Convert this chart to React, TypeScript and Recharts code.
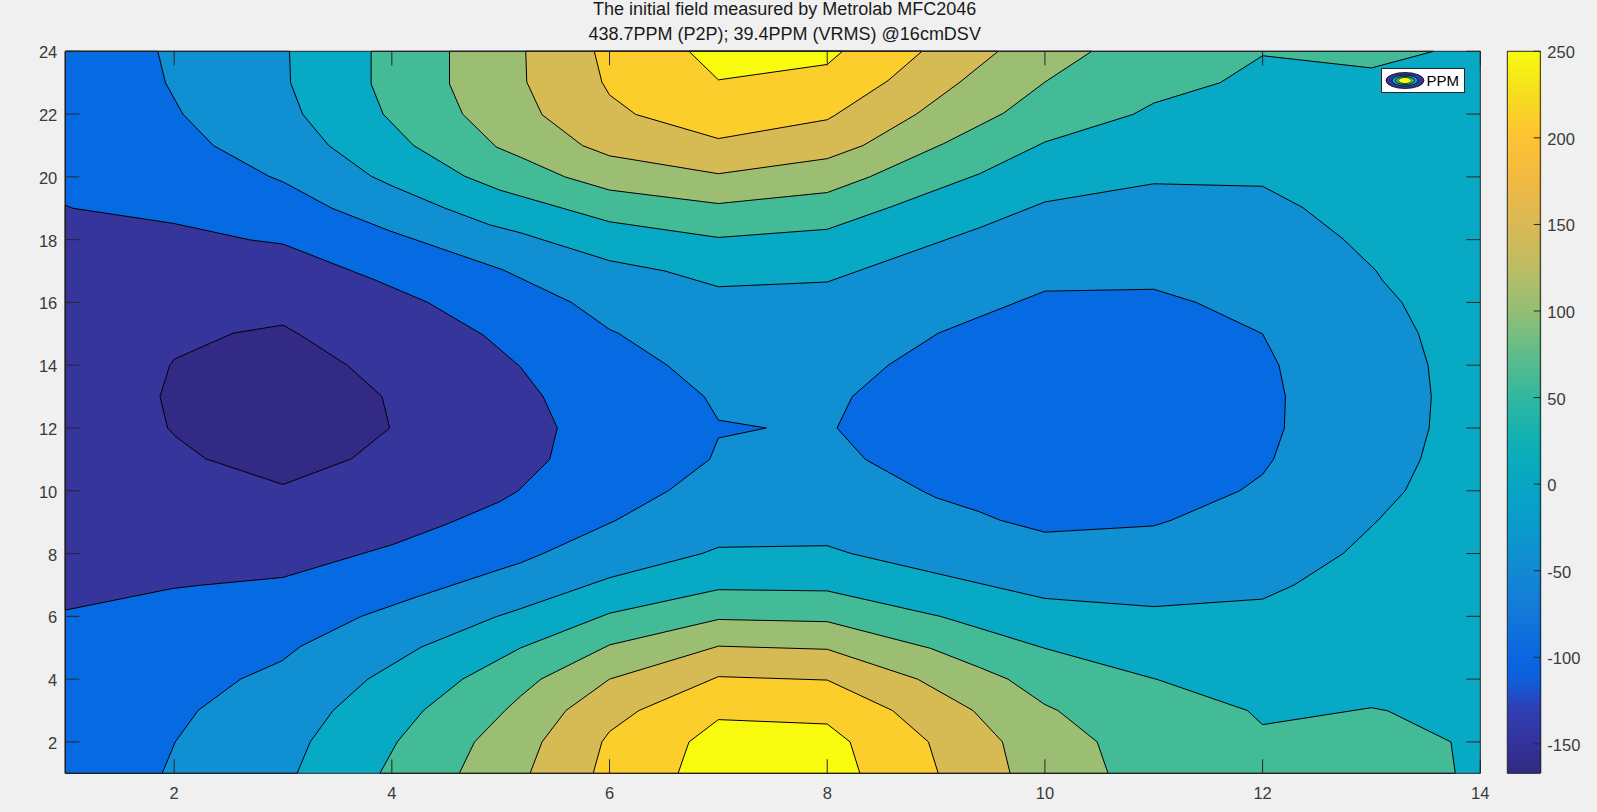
import React from 'react'
import { Bar, BarChart, Legend, Scatter, ScatterChart, XAxis, YAxis } from 'recharts'

const xTicks = [2, 4, 6, 8, 10, 12, 14]
const yTicks = [2, 4, 6, 8, 10, 12, 14, 16, 18, 20, 22, 24]
const colorbarTicks = [-150, -100, -50, 0, 50, 100, 150, 200, 250]
const colorbarRange = [{ name: 'PPM', range: [-167, 250] }]

const fieldBase = [[1, 1], [14, 1], [14, 24], [1, 24]]
const fieldCorners = [{ x: 1, y: 1 }, { x: 14, y: 24 }]

const midBlueRegion = [
  [1, 24], [3.06, 24], [3.07, 23], [3.18, 22], [3.42, 21], [3.81, 20.02], [4.01, 19.7], [4.49, 19], [4.9, 18.47],
  [5.18, 18.22], [6, 17.33], [6.51, 17], [7, 16.5], [8, 16.65], [9.4, 18.38], [10, 19.2], [11, 19.78], [12, 19.7],
  [12.37, 19.02], [12.74, 18.02], [13.04, 17.02], [13.1, 16.71], [13.28, 16], [13.43, 15.02], [13.52, 14], [13.55, 13],
  [13.53, 12], [13.45, 11], [13.31, 10], [13.06, 9.06], [12.74, 8], [12.29, 7], [12, 6.55], [11, 6.31], [10, 6.57],
  [9.4, 7.05], [8.22, 8], [8, 8.25], [7, 8.2], [6.85, 8], [6, 7.23], [5.18, 6.24], [4.96, 5.99], [4.27, 5.02],
  [3.78, 4], [3.46, 3], [3.25, 2], [3.13, 1], [1, 1],
]

const blueLeftRegion = [
  [1, 24], [1.85, 24], [1.92, 23], [2.08, 22], [2.36, 21], [2.87, 20.02], [3, 19.84], [3.45, 19], [3.98, 18.28],
  [5.02, 17.04], [5.22, 16.71], [5.65, 16], [6, 15.14], [6.08, 15.02], [6.53, 14], [6.87, 13], [7, 12.25], [7.44, 12],
  [7, 11.68], [6.92, 11], [6.54, 10], [6.06, 9.06], [5.39, 8], [5.18, 7.7], [4.99, 7.49], [4.23, 6.62], [3.72, 6],
  [3.16, 5.04], [2.99, 4.58], [2.61, 4], [2.22, 3], [2.01, 2], [1.89, 1], [1, 1],
]

const blueRightRegion = [
  [8.09, 12], [8.23, 13], [8.56, 14], [9.02, 15.02], [9.4, 15.54], [10, 16.36], [11, 16.42], [11.39, 16], [12, 15],
  [12.15, 14], [12.21, 13], [12.2, 12], [12.1, 11], [12, 10.52], [11.79, 10], [11.16, 9.06], [11, 8.88], [10, 8.68],
  [9.59, 9.06], [9.4, 9.33], [9, 9.78], [8.87, 10], [8.35, 11],
]

const indigoRegion = [
  [1, 19.1], [1.07, 19], [1.99, 18.52], [2.7, 17.99], [3, 17.86], [3.85, 16.71], [4.33, 16], [4.84, 14.96], [5.18, 13.95],
  [5.39, 13], [5.52, 12], [5.45, 11], [5.16, 10], [4.99, 9.65], [4.5, 8.93], [4.01, 8.29], [3, 7.24], [2.24, 6.99],
  [1.99, 6.89], [1, 6.2],
]

const darkRegion = [
  [3, 15.28], [3.16, 14.96], [3.59, 14], [3.91, 13], [3.98, 12], [3.63, 11.02], [3, 10.2], [2.29, 11.02], [2.01, 11.74],
  [1.94, 12], [1.87, 13], [1.96, 14], [2, 14.19], [2.54, 15.02],
]

const topGreenRegion = [
  [3.81, 24], [3.81, 22.96], [3.92, 22], [4.2, 21], [4.67, 20.02], [4.99, 19.58], [5.18, 19.39], [6, 18.57], [7, 18.07],
  [8, 18.33], [8.59, 19.05], [9.4, 20.1], [10, 21.11], [10.81, 21.99], [11, 22.35], [11.61, 23], [12, 23.86], [13, 23.47],
  [13.57, 24],
]

const topOliveRegion = [
  [4.53, 24], [4.53, 22.96], [4.65, 22], [4.96, 20.95], [5.18, 20.63], [5.59, 20], [6, 19.58], [7, 19.15], [8, 19.5],
  [8.39, 20], [9.07, 21.06], [9.4, 21.64], [9.62, 22.03], [10, 23.02], [10.43, 24],
]

const topTanRegion = [
  [5.23, 24], [5.24, 23.02], [5.38, 21.98], [5.75, 21], [6, 20.67], [7, 20.1], [8, 20.58], [8.33, 21], [8.82, 22],
  [9.22, 23.02], [9.57, 24],
]

const topGoldRegion = [
  [5.86, 24], [5.93, 23.02], [6, 22.61], [6.24, 21.99], [7, 21.22], [8, 21.82], [8.07, 21.96], [8.56, 23.07], [8.87, 24],
]

const topYellowRegion = [[6.73, 24], [7, 23.09], [8, 23.58], [8.14, 24]]

const bottomGreenRegion = [
  [3.89, 1], [4.05, 2], [4.29, 3], [4.65, 4], [5.18, 4.99], [6, 6.1], [7, 6.85], [8, 6.81], [9.05, 5.99], [9.4, 5.62],
  [10, 4.98], [11.04, 3.98], [11.86, 3], [12, 2.55], [13, 3.09], [13.15, 2.99], [13.73, 2], [13.77, 1],
]

const bottomOliveRegion = [
  [4.62, 1], [4.76, 2], [5.04, 3], [5.18, 3.45], [5.37, 4], [6, 5.09], [7, 5.9], [8, 5.83], [8.95, 4.98], [9.4, 4.37],
  [9.66, 4], [10, 3.19], [10.12, 3], [10.48, 2], [10.58, 1],
]

const bottomTanRegion = [
  [5.27, 1], [5.38, 2], [5.6, 3], [6, 4], [7, 5.05], [8, 4.95], [8.83, 4], [9.34, 3], [9.61, 2], [9.68, 1],
]

const bottomGoldRegion = [
  [5.85, 1], [5.93, 2], [6, 2.33], [6.27, 3], [7, 4.08], [8, 3.97], [8.6, 3], [8.93, 2], [9.02, 1],
]

const bottomYellowRegion = [[6.63, 1], [6.73, 2], [7, 2.71], [8, 2.57], [8.21, 2], [8.3, 1]]

const COLORS = {
  dark: '#322a85',
  indigo: '#35359c',
  blue: '#066ae2',
  midBlue: '#118fd3',
  teal: '#07a9c4',
  green: '#42bb96',
  olive: '#9cbe72',
  tan: '#d6ba54',
  gold: '#fbce2b',
  yellow: '#f9fb0e',
}

// painted back to front, like contourf
const layers = [
  { id: 'base', region: fieldBase, fill: COLORS.teal, stroke: 'none' },
  { id: 'midBlue', region: midBlueRegion, fill: COLORS.midBlue },
  { id: 'blueLeft', region: blueLeftRegion, fill: COLORS.blue },
  { id: 'blueRight', region: blueRightRegion, fill: COLORS.blue },
  { id: 'indigo', region: indigoRegion, fill: COLORS.indigo },
  { id: 'dark', region: darkRegion, fill: COLORS.dark },
  { id: 'topGreen', region: topGreenRegion, fill: COLORS.green },
  { id: 'topOlive', region: topOliveRegion, fill: COLORS.olive },
  { id: 'topTan', region: topTanRegion, fill: COLORS.tan },
  { id: 'topGold', region: topGoldRegion, fill: COLORS.gold },
  { id: 'topYellow', region: topYellowRegion, fill: COLORS.yellow },
  { id: 'bottomGreen', region: bottomGreenRegion, fill: COLORS.green },
  { id: 'bottomOlive', region: bottomOliveRegion, fill: COLORS.olive },
  { id: 'bottomTan', region: bottomTanRegion, fill: COLORS.tan },
  { id: 'bottomGold', region: bottomGoldRegion, fill: COLORS.gold },
  { id: 'bottomYellow', region: bottomYellowRegion, fill: COLORS.yellow },
]

const parulaStops: [number, string][] = [
  [0, '#312a82'], [0.04, '#34329a'], [0.09, '#2f3fb5'], [0.13, '#0f5fdc'], [0.16, '#0a66e0'], [0.22, '#1378d8'],
  [0.28, '#1389d3'], [0.34, '#0a9acb'], [0.4, '#06a6c4'], [0.46, '#10b0b4'], [0.52, '#30b8a0'], [0.58, '#5fbc8a'],
  [0.64, '#92bf74'], [0.7, '#bdbc64'], [0.76, '#d9b955'], [0.82, '#f1b943'], [0.88, '#fec233'], [0.94, '#f6dd1f'],
  [1, '#f9fb0e'],
]

const AXIS = '#262626'
const TICK_TEXT = '#3a3a3a'
const FONT = '"Liberation Sans", Arial, sans-serif'
const TICK_FONT = 16.5

const regionShape = (fill: string, stroke = '#000') => (props: any) => {
  const d = props.points.map((p: any, i: number) => `${i ? 'L' : 'M'}${p.x},${p.y}`).join(' ') + ' Z'
  return <path d={d} fill={fill} stroke={stroke} strokeWidth={1} strokeLinejoin="miter" />
}

const noMarker = () => <g />

const BottomTick = ({ x, y, payload }: any) => (
  <g>
    <line x1={x} x2={x} y1={y} y2={y - 14} stroke={AXIS} />
    <text x={x} y={y + 20} textAnchor="middle" dominantBaseline="central" fontSize={TICK_FONT} fontFamily={FONT} fill={TICK_TEXT}>
      {payload.value}
    </text>
  </g>
)

const TopTick = ({ x, y }: any) => <line x1={x} x2={x} y1={y} y2={y + 14} stroke={AXIS} />

const LeftTick = ({ x, y, payload }: any) => (
  <g>
    <line x1={x} x2={x + 14} y1={y} y2={y} stroke={AXIS} />
    <text x={x - 8} y={y + 1} textAnchor="end" dominantBaseline="central" fontSize={TICK_FONT} fontFamily={FONT} fill={TICK_TEXT}>
      {payload.value}
    </text>
  </g>
)

const RightTick = ({ x, y }: any) => <line x1={x} x2={x - 14} y1={y} y2={y} stroke={AXIS} />

const ColorbarTick = ({ x, y, payload }: any) => (
  <g>
    <line x1={x} x2={x - 7} y1={y} y2={y} stroke={AXIS} />
    <text x={x + 6.6} y={y + 1} textAnchor="start" dominantBaseline="central" fontSize={TICK_FONT} fontFamily={FONT} fill={TICK_TEXT}>
      {payload.value}
    </text>
  </g>
)

const LegendBox = () => (
  <div
    style={{
      boxSizing: 'border-box',
      width: 84,
      height: 25,
      background: '#fff',
      border: `1px solid ${AXIS}`,
      display: 'flex',
      alignItems: 'center',
      fontFamily: FONT,
      fontSize: 15,
      color: '#000',
    }}
  >
    <svg width={45} height={23} style={{ flex: 'none' }}>
      <ellipse cx={23} cy={11.5} rx={19} ry={8} fill={COLORS.indigo} stroke="#000" strokeWidth={0.8} />
      <ellipse cx={23} cy={11.5} rx={13} ry={5.5} fill={COLORS.teal} stroke="#000" strokeWidth={0.8} />
      <ellipse cx={23} cy={11.5} rx={9.5} ry={4} fill={COLORS.green} stroke="#000" strokeWidth={0.8} />
      <ellipse cx={23} cy={11.5} rx={6.5} ry={3} fill={COLORS.yellow} stroke="#000" strokeWidth={0.6} />
    </svg>
    <span>PPM</span>
  </div>
)

const titleStyle: React.CSSProperties = {
  position: 'absolute',
  left: 384.7,
  width: 800,
  textAlign: 'center',
  fontFamily: FONT,
  fontSize: 18,
  lineHeight: '20px',
  color: '#1a1a1a',
}

const colorbarMargin = { top: 51.3, right: 55.3, bottom: 38.7, left: 17.3 }

export default function App() {
  return (
    <div style={{ position: 'absolute', left: 0, top: 0, width: 1597, height: 812, background: '#f0f0f0', overflow: 'hidden' }}>
      <div style={{ ...titleStyle, top: -1 }}>The initial field measured by Metrolab MFC2046</div>
      <div style={{ ...titleStyle, top: 24 }}>438.7PPM (P2P); 39.4PPM (VRMS) @16cmDSV</div>

      <div style={{ position: 'absolute', left: 0, top: 0 }}>
        <ScatterChart width={1490} height={812} margin={{ top: 51.3, right: 9.7, bottom: 38.7, left: 65.3 }}>
          <XAxis type="number" dataKey="x" domain={[1, 14]} hide />
          <YAxis type="number" dataKey="y" domain={[1, 24]} hide />
          {layers.map((layer) => (
            <Scatter
              key={layer.id}
              data={layer.region.map(([x, y]) => ({ x, y }))}
              line={regionShape(layer.fill, layer.stroke)}
              shape={noMarker}
              legendType="none"
              isAnimationActive={false}
            />
          ))}
        </ScatterChart>
      </div>

      {/* axes sit in a second chart so the ticks stay above the filled regions */}
      <div style={{ position: 'absolute', left: 0, top: 0 }}>
        <ScatterChart width={1490} height={812} margin={{ top: 50.3, right: 8.7, bottom: 8.7, left: 5 }}>
          <XAxis
            type="number"
            dataKey="x"
            domain={[1, 14]}
            ticks={xTicks}
            height={30}
            tickSize={0}
            tickMargin={0}
            tickLine={false}
            tick={BottomTick}
            stroke={AXIS}
            interval={0}
          />
          <XAxis
            xAxisId="top"
            orientation="top"
            type="number"
            dataKey="x"
            domain={[1, 14]}
            ticks={xTicks}
            height={1}
            tickSize={0}
            tickMargin={0}
            tickLine={false}
            tick={TopTick}
            stroke={AXIS}
            interval={0}
          />
          <YAxis
            type="number"
            dataKey="y"
            domain={[1, 24]}
            ticks={yTicks}
            width={60.3}
            tickSize={0}
            tickMargin={0}
            tickLine={false}
            tick={LeftTick}
            stroke={AXIS}
            interval={0}
          />
          <YAxis
            yAxisId="right"
            orientation="right"
            type="number"
            dataKey="y"
            domain={[1, 24]}
            ticks={yTicks}
            width={1}
            tickSize={0}
            tickMargin={0}
            tickLine={false}
            tick={RightTick}
            stroke={AXIS}
            interval={0}
          />
          <Scatter data={fieldCorners} shape={noMarker} legendType="none" isAnimationActive={false} />
          <Scatter
            xAxisId="top"
            yAxisId="right"
            data={fieldCorners}
            shape={noMarker}
            legendType="none"
            isAnimationActive={false}
          />
          <Legend
            content={LegendBox}
            layout="horizontal"
            align="center"
            verticalAlign="middle"
            wrapperStyle={{ position: 'absolute', left: 1380.5, top: 68, width: 84, height: 25 }}
          />
        </ScatterChart>
      </div>

      <div style={{ position: 'absolute', left: 1490, top: 0 }}>
        <BarChart width={107} height={812} data={colorbarRange} barCategoryGap={0} margin={colorbarMargin}>
          <defs>
            <linearGradient id="parula" x1="0" y1="1" x2="0" y2="0">
              {parulaStops.map(([offset, color]) => (
                <stop key={offset} offset={offset} stopColor={color} />
              ))}
            </linearGradient>
          </defs>
          <XAxis dataKey="name" hide />
          <YAxis type="number" domain={[-167, 250]} hide />
          <Bar dataKey="range" fill="url(#parula)" isAnimationActive={false} />
        </BarChart>
      </div>

      {/* same idea for the colorbar frame and ticks */}
      <div style={{ position: 'absolute', left: 1490, top: 0 }}>
        <BarChart width={107} height={812} data={colorbarRange} barCategoryGap={0} margin={colorbarMargin}>
          <XAxis dataKey="name" hide />
          <YAxis
            orientation="right"
            type="number"
            domain={[-167, 250]}
            ticks={colorbarTicks}
            width={1}
            tickSize={0}
            tickMargin={0}
            tickLine={false}
            axisLine={false}
            tick={ColorbarTick}
            interval={0}
          />
          <Bar dataKey="range" fill="none" stroke={AXIS} strokeWidth={1} isAnimationActive={false} />
        </BarChart>
      </div>
    </div>
  )
}
